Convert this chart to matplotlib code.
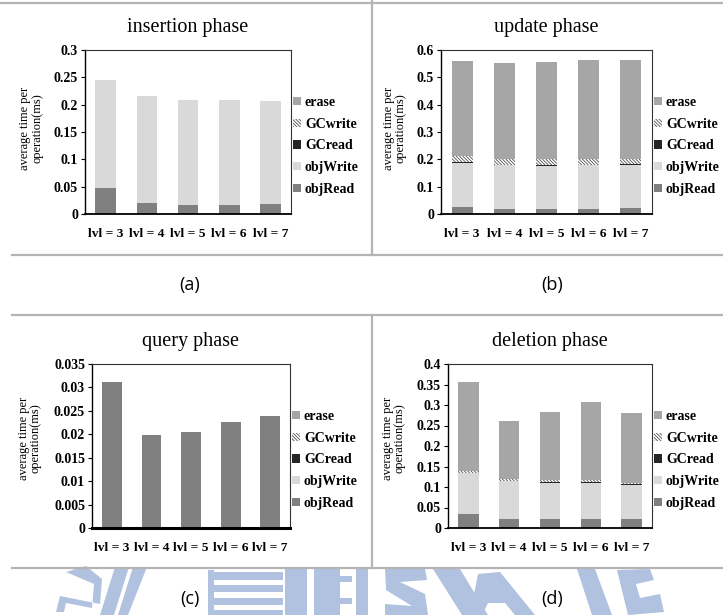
import numpy as np
import matplotlib
matplotlib.use('Agg')
import matplotlib.pyplot as plt
from matplotlib.patches import Patch, Polygon
from matplotlib.lines import Line2D

plt.rcParams['font.family'] = ['Liberation Serif', 'DejaVu Serif']
plt.rcParams['hatch.linewidth'] = 0.6

# ── Data ──────────────────────────────────────────────────────────
levels = ['lvl = 3', 'lvl = 4', 'lvl = 5', 'lvl = 6', 'lvl = 7']
series = ['objRead', 'objWrite', 'GCread', 'GCwrite', 'erase']

ins_objread  = [0.048, 0.021, 0.017, 0.017, 0.019]
ins_objwrite = [0.197, 0.195, 0.192, 0.192, 0.188]
ins_gcread   = [0, 0, 0, 0, 0]
ins_gcwrite  = [0, 0, 0, 0, 0]
ins_erase    = [0, 0, 0, 0, 0]

upd_objread  = [0.025, 0.018, 0.018, 0.018, 0.021]
upd_objwrite = [0.163, 0.160, 0.157, 0.160, 0.158]
upd_gcread   = [0.002, 0.003, 0.003, 0.003, 0.003]
upd_gcwrite  = [0.024, 0.020, 0.022, 0.022, 0.021]
upd_erase    = [0.346, 0.350, 0.356, 0.360, 0.360]

qry_objread  = [0.0312, 0.0198, 0.0205, 0.0226, 0.0239]
qry_objwrite = [0, 0, 0, 0, 0]
qry_gcread   = [0, 0, 0, 0, 0]
qry_gcwrite  = [0, 0, 0, 0, 0]
qry_erase    = [0, 0, 0, 0, 0]

del_objread  = [0.035, 0.023, 0.023, 0.023, 0.023]
del_objwrite = [0.098, 0.091, 0.087, 0.087, 0.082]
del_gcread   = [0.001, 0.001, 0.001, 0.001, 0.002]
del_gcwrite  = [0.006, 0.004, 0.005, 0.005, 0.002]
del_erase    = [0.217, 0.143, 0.168, 0.191, 0.172]

# ── Styles ────────────────────────────────────────────────────────
styles = {
    'objRead':  dict(color='#808080'),
    'objWrite': dict(color='#d9d9d9'),
    'GCread':   dict(color='#262626'),
    'GCwrite':  dict(facecolor='white', edgecolor='#505050', hatch='\\' * 10),
    'erase':    dict(color='#a6a6a6'),
}
tick_font = dict(family='Liberation Serif', size=10, weight='bold')
W, H = 723, 615


def fx(px):
    return px / W


def fy(py):
    return 1 - py / H


def draw_panel(ax, stacks, title, ymax, ystep, thick_base=False):
    x = np.arange(len(levels))
    bottom = np.zeros(len(levels))
    for name, vals in zip(series, stacks):
        vals = np.array(vals, dtype=float)
        ax.bar(x, vals, width=0.5, bottom=bottom, linewidth=0, **styles[name])
        bottom += vals
    ax.set_xlim(-0.5, len(levels) - 0.5)
    ax.set_ylim(0, ymax)
    yt = np.round(np.arange(0, ymax + ystep / 2, ystep), 4)
    ax.set_yticks(yt)
    ax.set_yticklabels([f'{v:g}' for v in yt], fontdict=tick_font)
    ax.set_xticks(x)
    ax.set_xticklabels(levels, fontdict=dict(family='Liberation Serif', size=9.7, weight='bold'))
    ax.tick_params(axis='x', length=0, pad=10)
    ax.tick_params(axis='y', length=3, width=0.8, pad=2)
    ax.set_title(title, fontsize=14.5, pad=13)
    for s in ['top', 'right']:
        ax.spines[s].set_linewidth(0.8)
        ax.spines[s].set_color('#333333')
    ax.spines['left'].set_linewidth(1.0)
    ax.spines['bottom'].set_linewidth(2.2 if thick_base else 1.3)

    handles = [Patch(label=n, linewidth=0, **styles[n]) for n in series[::-1]]
    ax.legend(handles=handles, loc='center left', bbox_to_anchor=(1.0, 0.415),
              frameon=False, handlelength=0.55, handleheight=0.55, handletextpad=0.3,
              labelspacing=0.62, borderpad=0, borderaxespad=0.15,
              prop=dict(family='Liberation Serif', size=10, weight='bold'))


fig = plt.figure(figsize=(7.23, 6.15), dpi=100)

# ── Watermark at the bottom (drawn first so it sits underneath) ───
wm_color = '#b1c1e0'
wm_shapes = [
    [(66, 572), (86, 566), (102, 579), (100, 604), (60, 596), (56, 612), (64, 612), (66, 603),
     (92, 608), (94, 584)],
    [(115, 567), (129, 567), (114, 615), (100, 615)],
    [(133, 567), (147, 567), (128, 615), (118, 615)],
    [(208, 570), (214, 570), (214, 615), (208, 615)],
    [(208, 572), (283, 572), (283, 580), (208, 580)],
    [(208, 585), (283, 585), (283, 592), (208, 592)],
    [(208, 598), (283, 598), (283, 605), (208, 605)],
    [(208, 610), (283, 610), (283, 615), (208, 615)],
    [(285, 569), (307, 569), (307, 615), (285, 615)],
    [(314, 569), (340, 569), (340, 576), (352, 576), (352, 582), (340, 582), (340, 598),
     (352, 598), (352, 604), (340, 604), (340, 615), (314, 615)],
    [(356, 569), (368, 569), (368, 615), (356, 615)],
    [(385, 569), (425, 569), (427, 580), (400, 582), (425, 594), (428, 615), (385, 615),
     (385, 604), (412, 606), (386, 590)],
    [(433, 569), (460, 569), (488, 615), (462, 615)],
    [(478, 574), (500, 572), (535, 615), (515, 615), (505, 603), (488, 603), (482, 615),
     (470, 615)],
    [(577, 569), (595, 569), (612, 615), (592, 615)],
    [(617, 570), (650, 569), (654, 580), (636, 584), (640, 598), (660, 594), (664, 612),
     (628, 615)],
]
for pts in wm_shapes:
    fig.patches.append(Polygon([(fx(px), fy(py)) for px, py in pts], closed=True,
                               transform=fig.transFigure, facecolor=wm_color,
                               edgecolor='none', zorder=0))

# ── Table borders between panels ──────────────────────────────────
line_kw = dict(transform=fig.transFigure, color='#b4b4b4', linewidth=1.6)
for (x0, y0), (x1, y1) in [((0, 3), (723, 3)), ((12, 255), (723, 255)),
                           ((372, 0), (372, 255)), ((12, 315), (723, 315)),
                           ((12, 568), (723, 568)), ((372, 315), (372, 568))]:
    fig.add_artist(Line2D([fx(x0), fx(x1)], [fy(y0), fy(y1)], **line_kw))

# ── Panels ────────────────────────────────────────────────────────
ax_a = fig.add_axes([fx(85), fy(214), fx(206), 164 / H])
draw_panel(ax_a, [ins_objread, ins_objwrite, ins_gcread, ins_gcwrite, ins_erase],
           'insertion phase', 0.3, 0.05)

ax_b = fig.add_axes([fx(441), fy(214), fx(211), 164 / H])
draw_panel(ax_b, [upd_objread, upd_objwrite, upd_gcread, upd_gcwrite, upd_erase],
           'update phase', 0.6, 0.1)

ax_c = fig.add_axes([fx(92), fy(528), fx(198), 164 / H])
draw_panel(ax_c, [qry_objread, qry_objwrite, qry_gcread, qry_gcwrite, qry_erase],
           'query phase', 0.035, 0.005, thick_base=True)

ax_d = fig.add_axes([fx(448), fy(528), fx(204), 164 / H])
draw_panel(ax_d, [del_objread, del_objwrite, del_gcread, del_gcwrite, del_erase],
           'deletion phase', 0.4, 0.05)

# y-axis captions
for px, py in [(31, 128), (395, 128), (30, 438), (394, 438)]:
    fig.text(fx(px), fy(py), 'average time per\noperation(ms)', rotation=90,
             ha='center', va='center', multialignment='center', fontsize=9,
             linespacing=1.0)

# sub-figure letters
for label, px, py in [('(a)', 190, 285), ('(b)', 552, 285), ('(c)', 190, 599), ('(d)', 552, 599)]:
    fig.text(fx(px), fy(py), label, ha='center', va='center', fontsize=13,
             family='Open Sans', zorder=5)

fig.savefig('out.png', dpi=100)
